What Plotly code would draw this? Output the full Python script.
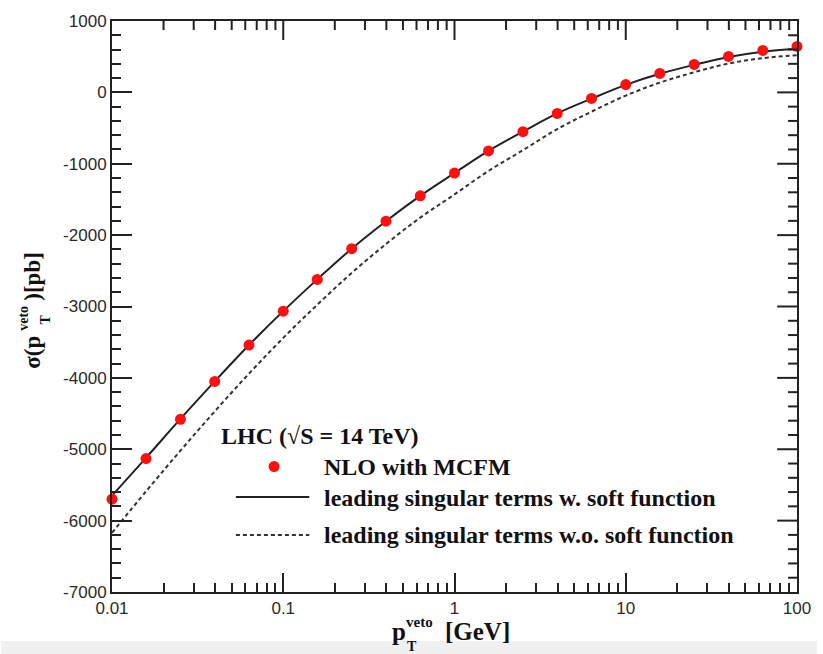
import plotly.graph_objects as go

# ---- data ----
pt_veto = [0.01, 0.0158, 0.0251, 0.0398, 0.0631, 0.1, 0.158, 0.251, 0.398, 0.631,
           1.0, 1.58, 2.51, 3.98, 6.31, 10.0, 15.8, 25.1, 39.8, 63.1, 100.0]
nlo_mcfm = [-5700, -5130, -4580, -4050, -3540, -3065, -2620, -2190, -1805, -1450,
            -1130, -820, -550, -295, -85, 110, 266, 392, 504, 588, 644]
sing_w_soft = [-5650, -5120, -4575, -4050, -3540, -3065, -2620, -2190, -1805, -1450,
               -1130, -820, -550, -295, -88, 105, 260, 385, 495, 570, 610]
sing_wo_soft = [-6170, -5590, -5020, -4470, -3940, -3440, -2975, -2530, -2125, -1755,
                -1430, -1100, -810, -515, -270, -45, 136, 282, 404, 480, 520]

y_ticks = [-7000, -6000, -5000, -4000, -3000, -2000, -1000, 0, 1000]
x_ticks = [0.01, 0.1, 1, 10, 100]
x_ticklabels = ["0.01", "0.1", "1", "10", "100"]

x_minor = [m * 10 ** e for e in range(-2, 2) for m in range(2, 10)]
y_minor = [v for v in range(-7000, 1001, 200) if v % 1000 != 0]

X_RANGE = [-2, 2]          # log10
Y_RANGE = [-7000, 1000]

# ---- geometry helpers (plot area in pixels) ----
L, R, T, B = 112, 803, 21, 592
W, H = 823, 654
PW, PH = R - L, B - T


def px(x):
    return (x - L) / PW


def py(y):
    return (B - y) / PH


fig = go.Figure()
fig.add_trace(go.Scatter(x=pt_veto, y=sing_wo_soft, mode="lines",
                         line=dict(color="#333333", width=2, dash="4px,3px", shape="spline"),
                         showlegend=False))
fig.add_trace(go.Scatter(x=pt_veto, y=sing_w_soft, mode="lines",
                         line=dict(color="#222222", width=2, shape="spline"),
                         showlegend=False))
fig.add_trace(go.Scatter(x=pt_veto, y=nlo_mcfm, mode="markers",
                         marker=dict(color="#ff1010", size=11),
                         showlegend=False, cliponaxis=False))

# mirrored ticks on the top and right frame edges
y_top, x_right = Y_RANGE[1], 10 ** X_RANGE[1]
dy_major = 19 / PH * (Y_RANGE[1] - Y_RANGE[0])
dy_minor = 9 / PH * (Y_RANGE[1] - Y_RANGE[0])
fx_major = 10 ** (20 / PW * (X_RANGE[1] - X_RANGE[0]))
fx_minor = 10 ** (9 / PW * (X_RANGE[1] - X_RANGE[0]))
tx, ty = [], []
for v in x_ticks[1:-1]:
    tx += [v, v, None]
    ty += [y_top, y_top - dy_major, None]
for v in x_minor:
    tx += [v, v, None]
    ty += [y_top, y_top - dy_minor, None]
rx, ry = [], []
for v in y_ticks[1:-1]:
    rx += [x_right, x_right / fx_major, None]
    ry += [v, v, None]
for v in y_minor:
    rx += [x_right, x_right / fx_minor, None]
    ry += [v, v, None]
for xs, ys in ((tx, ty), (rx, ry)):
    fig.add_trace(go.Scatter(x=xs, y=ys, mode="lines", line=dict(color="#222222", width=2),
                             hoverinfo="skip", showlegend=False, connectgaps=False, cliponaxis=False))

tickfont = dict(family="Liberation Sans, Arial, sans-serif", size=17, color="#2a2a2a")
tk = dict(ticks="inside", tickwidth=2, tickcolor="#222")
mn = dict(ticks="inside", ticklen=9, tickwidth=2, tickcolor="#222")

fig.update_xaxes(type="log", range=X_RANGE, tickvals=x_ticks, ticktext=x_ticklabels, ticklen=19,
                 minor=dict(tickvals=x_minor, **mn), showgrid=False, zeroline=False,
                 showline=True, linewidth=2, linecolor="#222", mirror=True, tickfont=tickfont, **tk)
fig.update_yaxes(range=Y_RANGE, tickvals=y_ticks, ticktext=[str(v) for v in y_ticks], ticklen=20,
                 minor=dict(tickvals=y_minor, **mn), showgrid=False, zeroline=False,
                 showline=True, linewidth=2, linecolor="#222", mirror=True, tickfont=tickfont, **tk)

serif = "Liberation Serif, Times New Roman, serif"
ann = []


def txt(x, y, s, size, xanchor="left", yanchor="middle", angle=0, color="#111"):
    ann.append(dict(xref="paper", yref="paper", x=px(x), y=py(y), text="<b>" + s + "</b>",
                    showarrow=False, xanchor=xanchor, yanchor=yanchor, textangle=angle,
                    font=dict(family=serif, size=size, color=color)))


# x-axis title: p_T^veto [GeV]
txt(392, 631, "p", 25)
txt(407, 622, "veto", 15)
txt(408, 646, "T", 14)
txt(446, 631, "[GeV]", 25)

# y-axis title: sigma(p_T^veto)[pb]  (rotated)
txt(31, 352, "σ(p", 23, xanchor="center", yanchor="middle", angle=-90)
txt(23, 318, "veto", 14, xanchor="center", yanchor="middle", angle=-90)
txt(44, 320, "T", 14, xanchor="center", yanchor="middle", angle=-90)
txt(31, 276, ")[pb]", 23, xanchor="center", yanchor="middle", angle=-90)

# legend
txt(220, 436, "LHC (√S = 14 TeV)", 24)
txt(324, 467, "NLO with MCFM", 24)
txt(324, 498, "leading singular terms w. soft function", 24)
txt(324, 535, "leading singular terms w.o. soft function", 24)

shapes = [
    dict(type="circle", xref="paper", yref="paper",
         x0=px(270), x1=px(281), y0=py(461), y1=py(472),
         fillcolor="#ff1010", line=dict(width=0)),
    dict(type="line", xref="paper", yref="paper", x0=px(237), x1=px(311), y0=py(497), y1=py(497),
         line=dict(color="#222", width=2)),
    dict(type="line", xref="paper", yref="paper", x0=px(237), x1=px(311), y0=py(535), y1=py(535),
         line=dict(color="#333", width=2, dash="4px,3px")),
    dict(type="rect", xref="paper", yref="paper", x0=px(0), x1=px(W), y0=py(641), y1=py(H),
         fillcolor="#f0f0f0", line=dict(width=0), layer="below"),
]

fig.update_layout(width=W, height=H, margin=dict(l=L, r=W - R, t=T, b=H - B),
                  paper_bgcolor="white", plot_bgcolor="white",
                  annotations=ann, shapes=shapes, showlegend=False)

fig.write_html("out.html")
